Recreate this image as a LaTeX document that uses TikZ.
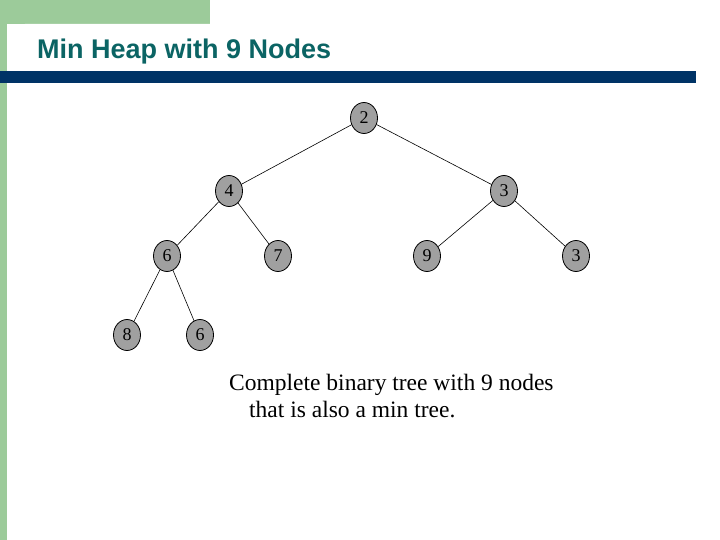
\documentclass[tikz,border=0pt]{standalone}
\usepackage{fontspec}
\usetikzlibrary{shapes.geometric}
\newfontfamily\arialf{Liberation Sans}
\setmainfont{Liberation Serif}
\definecolor{sgreen}{HTML}{9CCB9A}
\definecolor{sblue}{HTML}{003366}
\definecolor{stitle}{HTML}{0B6464}
\definecolor{ngray}{HTML}{A0A0A0}
\begin{document}
\begin{tikzpicture}[x=1pt,y=-1pt,
  hn/.style={ellipse,draw=black,line width=0.8pt,fill=ngray,minimum width=27pt,minimum height=31pt,inner sep=0pt,font=\fontsize{18}{18}\selectfont},
  edge/.style={line width=0.6pt}]
\useasboundingbox (0,0) rectangle (720,540);
\fill[white] (0,0) rectangle (720,540);
\fill[sgreen] (0,0) rectangle (210,24);
\fill[sgreen] (0,0) rectangle (7,540);
\fill[white] (7,42) to[out=-90,in=180] (25,24) -- (720,24) -- (720,540) -- (7,540) -- cycle;
\node[anchor=west,font=\arialf\bfseries\fontsize{27}{27}\selectfont,text=stitle,inner sep=0pt] (title) at (37,52) {Min Heap with 9 Nodes};
\fill[sblue] (0,71) rectangle (696,83);
\node[hn] (n2) at (364,118) {2};
\node[hn] (n4) at (229,191) {4};
\node[hn] (n3) at (504,191) {3};
\node[hn] (n6) at (167,256) {6};
\node[hn] (n7) at (278,256) {7};
\node[hn] (n9) at (427,256) {9};
\node[hn] (n3b) at (576,256) {3};
\node[hn] (n8) at (127,335) {8};
\node[hn] (n6b) at (200,335) {6};
\draw[edge] (n2)--(n4); \draw[edge] (n2)--(n3);
\draw[edge] (n4)--(n6); \draw[edge] (n4)--(n7);
\draw[edge] (n3)--(n9); \draw[edge] (n3)--(n3b);
\draw[edge] (n6)--(n8); \draw[edge] (n6)--(n6b);
\node[anchor=north west,align=left,font=\fontsize{23.5}{27}\selectfont,inner sep=0pt] (cap) at (229,374) {Complete binary tree with 9 nodes\\\hspace*{20pt}that is also a min tree.};
\end{tikzpicture}
\end{document}
